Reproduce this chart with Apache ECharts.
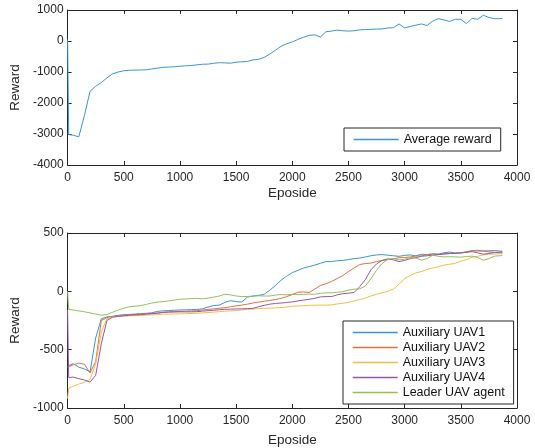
<!DOCTYPE html>
<html>
<head>
<meta charset="utf-8">
<script src="https://cdn.jsdelivr.net/npm/echarts@6/dist/echarts.min.js"></script>
<style>
  html, body { margin: 0; padding: 0; background: #fff; }
  #main { width: 535px; height: 448px; }
</style>
</head>
<body>
<div id="main"></div>
<script>
var episodes = [0, 10, 50, 100, 150, 200, 250, 300, 350, 400, 450, 500, 550, 600, 650, 700, 750, 800, 850, 900,
    950, 1000, 1050, 1100, 1150, 1200, 1250, 1300, 1350, 1400, 1450, 1500, 1550, 1600, 1650, 1700, 1750, 1800,
    1850, 1900, 1950, 2000, 2050, 2100, 2150, 2200, 2250, 2300, 2350, 2400, 2450, 2500, 2550, 2600, 2650, 2700,
    2750, 2800, 2850, 2900, 2950, 3000, 3050, 3100, 3150, 3200, 3250, 3300, 3350, 3400, 3450, 3500, 3550, 3600,
    3650, 3700, 3750, 3800, 3850, 3870];

var avgReward = [50, -3020, -3040, -3090, -2400, -1620, -1460, -1340, -1190, -1060, -1000, -960, -945, -940, -935, -930, -900, -875, -850, -840,
    -830, -815, -800, -790, -770, -750, -745, -720, -700, -705, -715, -685, -670, -660, -610, -590, -530, -420,
    -300, -170, -90, -30, 50, 120, 180, 200, 130, 300, 320, 350, 330, 320, 330, 360, 370, 375,
    385, 390, 420, 430, 550, 420, 470, 510, 550, 500, 640, 720, 680, 630, 700, 700, 560, 730,
    700, 830, 760, 720, 720, 730];

var uav1 = [-640, -650, -620, -650, -665, -690, -400, -235, -220, -215, -205, -200, -198, -195, -190, -188, -184, -172, -167, -165,
    -162, -160, -158, -157, -155, -150, -135, -122, -118, -95, -80, -88, -92, -50, -40, -35, -25, 10,
    50, 95, 130, 160, 180, 200, 212, 225, 240, 255, 255, 262, 265, 272, 280, 285, 295, 305,
    312, 315, 310, 305, 300, 308, 312, 305, 318, 315, 322, 320, 330, 337, 328, 330, 335, 348,
    352, 345, 347, 350, 345, 344];

var uav2 = [-650, -640, -630, -615, -625, -700, -600, -250, -225, -215, -210, -205, -200, -198, -195, -192, -190, -185, -180, -176,
    -174, -172, -170, -168, -166, -160, -155, -150, -145, -140, -132, -125, -118, -110, -100, -92, -85, -78,
    -70, -60, -45, -28, -8, -5, -10, 20, 50, 65, 85, 110, 135, 170, 200, 230, 238, 242,
    255, 265, 272, 280, 288, 290, 295, 302, 305, 315, 318, 315, 322, 324, 325, 330, 340, 348,
    345, 347, 338, 335, 332, 330];

var uav3 = [-920, -830, -815, -795, -780, -755, -620, -350, -235, -220, -215, -212, -210, -208, -206, -204, -202, -200, -196, -195,
    -194, -193, -192, -190, -188, -185, -182, -178, -174, -170, -168, -165, -160, -155, -152, -148, -146, -144,
    -142, -140, -135, -128, -125, -123, -120, -119, -118, -118, -116, -108, -102, -94, -82, -70, -58, -40,
    -25, -12, 0, 20, 60, 110, 135, 158, 170, 188, 200, 212, 225, 232, 240, 258, 272, 292,
    300, 312, 318, 320, 322, 324];

var uav4 = [-160, -740, -735, -748, -760, -778, -720, -450, -250, -222, -215, -210, -205, -202, -200, -196, -192, -188, -180, -178,
    -177, -176, -176, -176, -174, -170, -166, -162, -158, -154, -153, -151, -150, -148, -146, -132, -120, -110,
    -104, -100, -96, -90, -82, -75, -68, -60, -48, -45, -45, -30, -20, -16, -10, 40, 100, 185,
    235, 265, 278, 270, 255, 265, 280, 290, 300, 305, 310, 315, 320, 324, 326, 330, 335, 340,
    330, 318, 325, 332, 336, 337];

var leader = [0, -155, -160, -168, -175, -185, -195, -205, -198, -180, -160, -145, -132, -128, -122, -112, -100, -92, -88, -82,
    -75, -68, -65, -62, -60, -64, -58, -50, -40, -25, -30, -40, -45, -44, -42, -38, -40, -40,
    -32, -28, -30, -25, -28, -26, -24, -25, -18, -13, -13, -8, -3, 10, 18, 22, 45, 110,
    180, 240, 275, 280, 270, 275, 290, 285, 268, 280, 310, 300, 295, 297, 295, 293, 298, 302,
    290, 267, 280, 302, 305, 310];

var bottomNames = ['Auxiliary UAV1', 'Auxiliary UAV2', 'Auxiliary UAV3', 'Auxiliary UAV4', 'Leader UAV agent'];
var bottomValues = [uav1, uav2, uav3, uav4, leader];
var colors = ['#3a94d6', '#e2703e', '#f1bd45', '#9a55a6', '#92c15c'];

function pairs(ys) {
    return episodes.map(function (e, i) { return [e, ys[i]]; });
}

var axisColor = '#262626';
var font = 'Liberation Sans, Arial, sans-serif';

function plain(v) { return String(v); }

function xAx(grid, pos, name, gap) {
    return {
        type: 'value', gridIndex: grid, position: pos,
        min: 0, max: 4000, interval: 500,
        name: name, nameLocation: 'middle', nameGap: gap,
        nameTextStyle: { color: axisColor, fontSize: 13.5, fontFamily: font },
        axisLine: { show: true, onZero: false, lineStyle: { color: axisColor, width: 1 } },
        axisTick: { show: true, inside: true, length: 4, lineStyle: { color: axisColor } },
        axisLabel: { show: pos === 'bottom', margin: 7, color: axisColor, fontSize: 12, fontFamily: font, formatter: plain },
        splitLine: { show: false }
    };
}

function yAx(grid, pos, min, max, step, name, gap) {
    return {
        type: 'value', gridIndex: grid, position: pos,
        min: min, max: max, interval: step,
        name: name, nameLocation: 'middle', nameGap: gap,
        nameTextStyle: { color: axisColor, fontSize: 13.5, fontFamily: font },
        axisLine: { show: true, onZero: false, lineStyle: { color: axisColor, width: 1 } },
        axisTick: { show: true, inside: true, length: 4, lineStyle: { color: axisColor } },
        axisLabel: { show: pos === 'left', margin: 4, color: axisColor, fontSize: 12, fontFamily: font, formatter: plain },
        splitLine: { show: false }
    };
}

var series = [{
    name: 'Average reward', type: 'line', xAxisIndex: 0, yAxisIndex: 0,
    data: pairs(avgReward), showSymbol: false, symbol: 'none',
    lineStyle: { width: 1, color: colors[0] }, itemStyle: { color: colors[0] }
}];
bottomNames.forEach(function (n, i) {
    series.push({
        name: n, type: 'line', xAxisIndex: 2, yAxisIndex: 2,
        data: pairs(bottomValues[i]), showSymbol: false, symbol: 'none',
        lineStyle: { width: 1, color: colors[i] }, itemStyle: { color: colors[i] }
    });
});

var legendBase = {
    orient: 'vertical', itemWidth: 45, itemHeight: 15, itemGap: 0,
    backgroundColor: '#fff', borderColor: axisColor, borderWidth: 1, borderRadius: 0,
    selectedMode: false,
    itemStyle: { opacity: 0 },
    lineStyle: { width: 1.4 },
    textStyle: { color: '#111', fontSize: 12.5, fontFamily: font, lineHeight: 15 }
};

var chart = echarts.init(document.getElementById('main'), null, { renderer: 'canvas' });
chart.setOption({
    animation: false,
    backgroundColor: '#fff',
    grid: [
        { left: 66, top: 10, right: 18, height: 155 },
        { left: 66, top: 233, right: 18, height: 175 }
    ],
    xAxis: [
        xAx(0, 'bottom', 'Eposide', 21),
        xAx(0, 'top', '', 0),
        xAx(1, 'bottom', 'Eposide', 25),
        xAx(1, 'top', '', 0)
    ],
    yAxis: [
        yAx(0, 'left', -4000, 1000, 1000, 'Reward', 39),
        yAx(0, 'right', -4000, 1000, 1000, '', 0),
        yAx(1, 'left', -1000, 500, 500, 'Reward', 42),
        yAx(1, 'right', -1000, 500, 500, '', 0)
    ],
    legend: [
        Object.assign({}, legendBase, { data: ['Average reward'], left: 344, top: 128, padding: [4, 9, 4, 9] }),
        Object.assign({}, legendBase, { data: bottomNames, left: 343, top: 321, padding: [4, 9, 4, 9] })
    ],
    series: series
});
</script>
</body>
</html>
